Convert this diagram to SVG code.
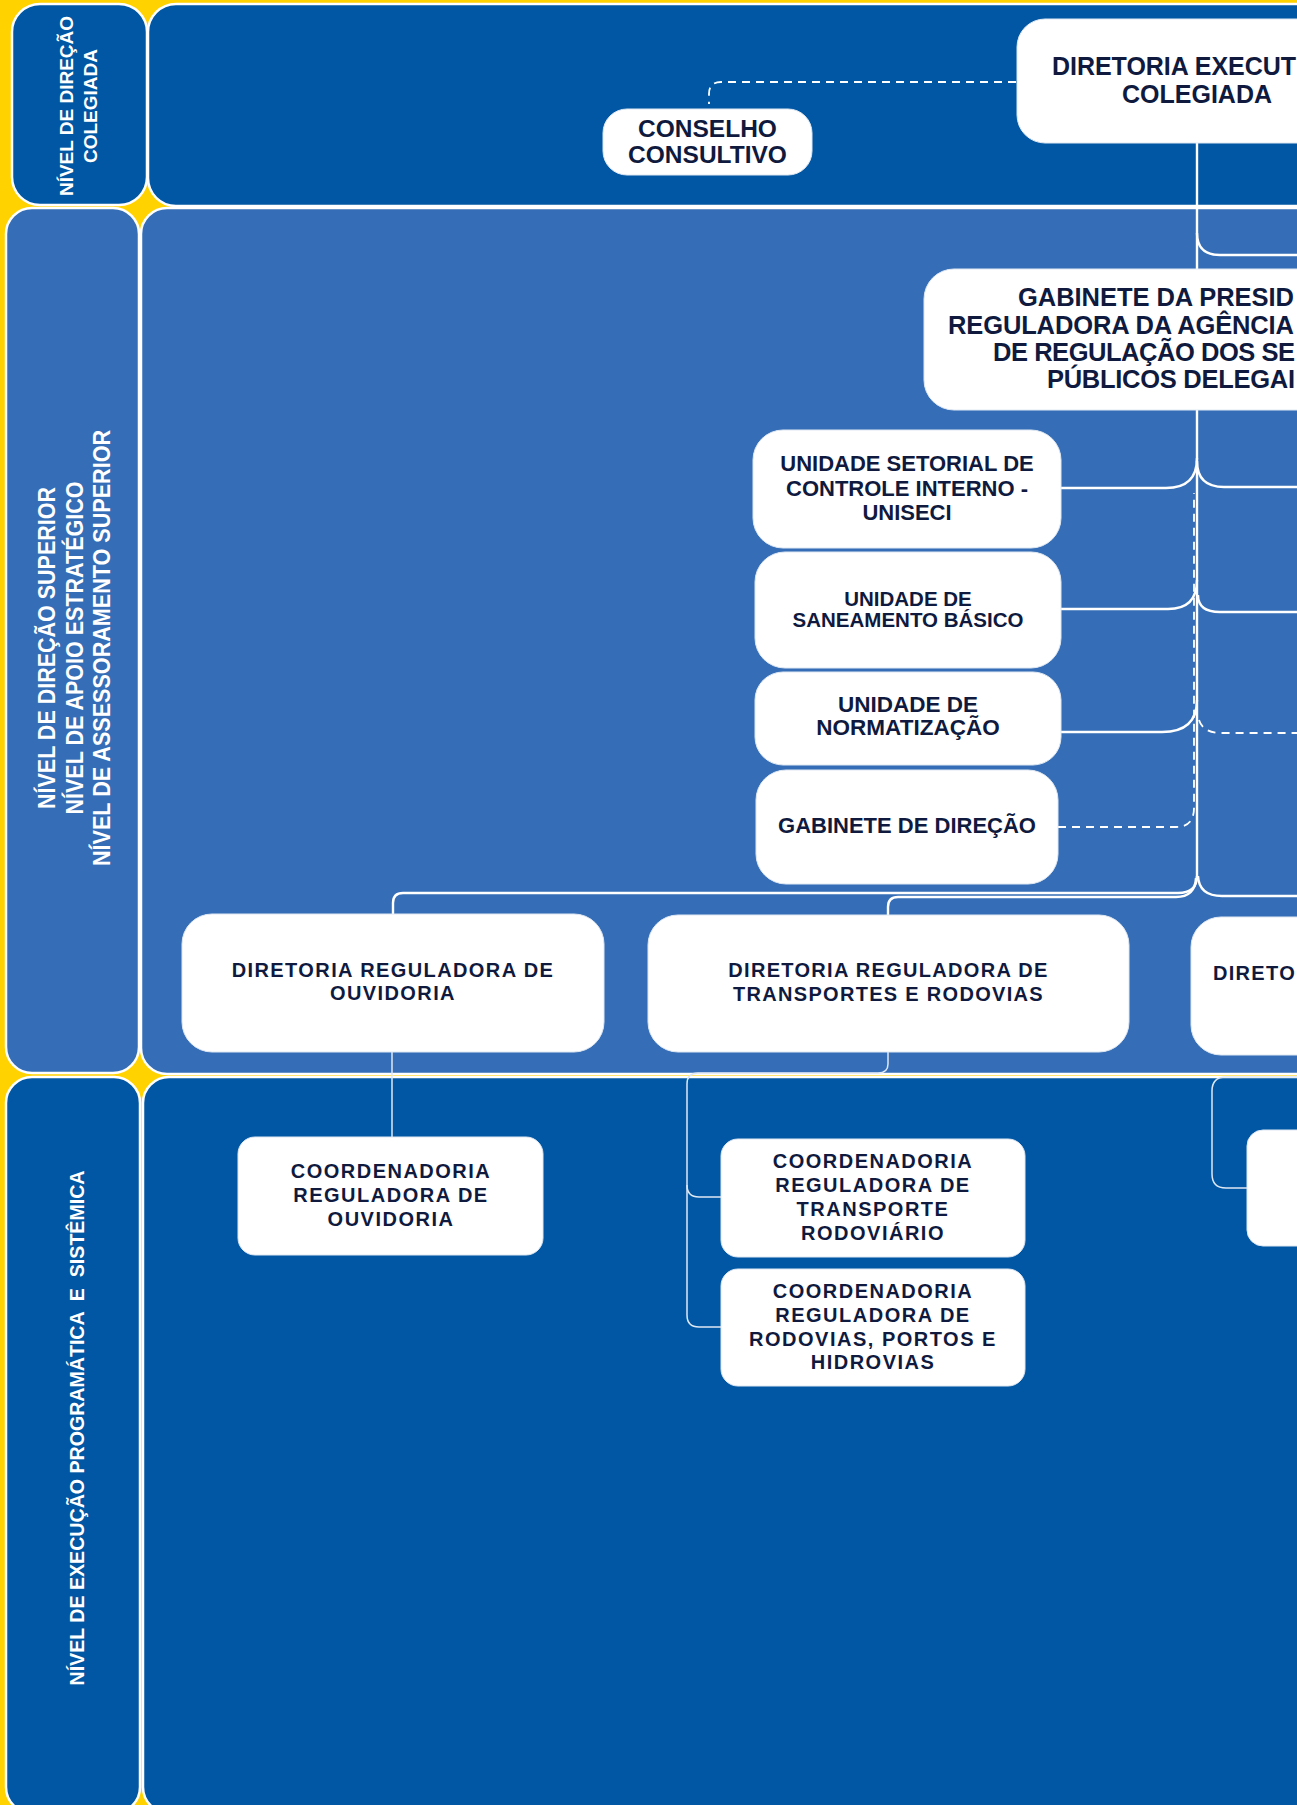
<svg xmlns="http://www.w3.org/2000/svg" width="1297" height="1805" viewBox="0 0 1297 1805">
<style>
.dark{fill:#0157A3;stroke:#ffffff;stroke-width:2.5}
.light{fill:#356EB6;stroke:#ffffff;stroke-width:2.5}
.box{fill:#ffffff;stroke:#dfe8f3;stroke-width:1}
.lbl{font-family:"Liberation Sans",Arial,sans-serif;font-weight:bold;fill:#ffffff}
.t{font-family:"Liberation Sans",Arial,sans-serif;font-weight:bold;fill:#0F1A3E}
.c{text-anchor:middle}
.ln{fill:none;stroke:#ffffff;stroke-width:2.4}
.thin{fill:none;stroke:#dfe8f5;stroke-width:1.5}
.dash{fill:none;stroke:#ffffff;stroke-width:1.8;stroke-dasharray:8 6}
</style>
<rect x="0" y="0" width="1297" height="1805" fill="#FFD200"/>
<g id="bands">
<rect class="dark" x="12" y="4" width="135" height="201" rx="28"/>
<rect class="dark" x="148" y="4" width="1190" height="202" rx="28"/>
<rect class="light" x="6" y="208" width="133" height="865" rx="26"/>
<rect class="light" x="141" y="208" width="1197" height="866" rx="26"/>
<rect class="dark" x="6" y="1077" width="134" height="736" rx="26"/>
<rect class="dark" x="143" y="1077" width="1195" height="736" rx="26"/>
<text class="lbl c" font-size="19" transform="translate(72.5,106) rotate(-90)">NÍVEL DE DIREÇÃO</text>
<text class="lbl c" font-size="19" transform="translate(97,106) rotate(-90)">COLEGIADA</text>
<text class="lbl c" font-size="24" textLength="322" lengthAdjust="spacingAndGlyphs" transform="translate(55,648) rotate(-90)">NÍVEL DE DIREÇÃO SUPERIOR</text>
<text class="lbl c" font-size="24" textLength="333" lengthAdjust="spacingAndGlyphs" transform="translate(82.5,648) rotate(-90)">NÍVEL DE APOIO ESTRATÉGICO</text>
<text class="lbl c" font-size="24" textLength="436" lengthAdjust="spacingAndGlyphs" transform="translate(110,648) rotate(-90)">NÍVEL DE ASSESSORAMENTO SUPERIOR</text>
<text class="lbl c" font-size="20.5" textLength="515" lengthAdjust="spacingAndGlyphs" xml:space="preserve" transform="translate(84,1428) rotate(-90)">NÍVEL DE EXECUÇÃO PROGRAMÁTICA  E  SISTÊMICA</text>
</g>
<g id="connectors">
<path class="dash" d="M1016,82 H721 Q709,82 709,94 V104"/>
<path class="ln" d="M1197,143 V880"/>
<path class="ln" d="M1197,233 Q1197,255 1220,255 H1300"/>
<path class="ln" d="M1061,488 H1166 Q1197,488 1197,458"/>
<path class="ln" d="M1197,461 Q1197,487 1224,487 H1300"/>
<path class="ln" d="M1061,609 H1168 Q1197,609 1197,580"/>
<path class="ln" d="M1198,595 Q1198,612 1220,612 H1300"/>
<path class="ln" d="M1061,732 H1162 Q1197,732 1197,700"/>
<path class="dash" d="M1199,720 Q1203,733 1222,733 H1300"/>
<path class="dash" d="M1058,827 H1176 Q1194,827 1194,808 V493"/>
<path class="ln" d="M1197,876 Q1197,893 1178,893 H403 Q393,893 393,903 V914"/>
<path class="ln" d="M1196,878 Q1195,897 1176,897 H898 Q888,897 888,907 V915"/>
<path class="ln" d="M1198,876 Q1199,896 1222,896 H1300"/>
<path class="thin" d="M392,1052 V1137"/>
<path class="thin" d="M888,1052 V1064 Q888,1073 878,1073 H698 Q687,1073 687,1084 V1315 Q687,1327 699,1327 H721"/>
<path class="thin" d="M687,1185 Q687,1197 699,1197 H721"/>
<path class="thin" d="M1300,1077 H1226 Q1212,1077 1212,1091 V1174 Q1212,1188 1226,1188 H1247"/>
</g>
<g id="diretoria-executiva">
<rect class="box" x="1017" y="19" width="330" height="124" rx="28"/>
<text class="t" font-size="25" x="1052" y="75" textLength="244" lengthAdjust="spacing">DIRETORIA EXECUT</text>
<text class="t c" font-size="25" x="1197" y="103">COLEGIADA</text>
</g>
<g id="conselho-consultivo">
<rect class="box" x="603" y="109" width="209" height="66" rx="24"/>
<text class="t c" font-size="24.5" x="707.5" y="137">CONSELHO</text>
<text class="t c" font-size="24.5" x="707.5" y="163">CONSULTIVO</text>
</g>
<g id="gabinete-presidencia">
<rect class="box" x="924" y="269" width="430" height="141" rx="30"/>
<text class="t" font-size="25.5" x="1018" y="306" textLength="276" lengthAdjust="spacing">GABINETE DA PRESID</text>
<text class="t" font-size="25.5" x="948" y="334" textLength="346" lengthAdjust="spacing">REGULADORA DA AGÊNCIA</text>
<text class="t" font-size="25.5" x="993" y="361" textLength="302" lengthAdjust="spacing">DE REGULAÇÃO DOS SE</text>
<text class="t" font-size="25.5" x="1047" y="388" textLength="248" lengthAdjust="spacing">PÚBLICOS DELEGAI</text>
</g>
<g id="uniseci">
<rect class="box" x="753" y="430" width="308" height="118" rx="30"/>
<text class="t c" font-size="22" x="907" y="471">UNIDADE SETORIAL DE</text>
<text class="t c" font-size="22" x="907" y="495.5">CONTROLE INTERNO -</text>
<text class="t c" font-size="22" x="907" y="520">UNISECI</text>
</g>
<g id="saneamento">
<rect class="box" x="755" y="552" width="306" height="116" rx="30"/>
<text class="t c" font-size="20.5" x="908" y="606">UNIDADE DE</text>
<text class="t c" font-size="20.5" x="908" y="627">SANEAMENTO BÁSICO</text>
</g>
<g id="normatizacao">
<rect class="box" x="755" y="672" width="306" height="93" rx="28"/>
<text class="t c" font-size="22.5" x="908" y="712">UNIDADE DE</text>
<text class="t c" font-size="22.5" x="908" y="735">NORMATIZAÇÃO</text>
</g>
<g id="gabinete-direcao">
<rect class="box" x="756" y="770" width="302" height="114" rx="30"/>
<text class="t c" font-size="22" x="907" y="833">GABINETE DE DIREÇÃO</text>
</g>
<g id="dir-ouvidoria">
<rect class="box" x="182" y="914" width="422" height="138" rx="30"/>
<text class="t c" font-size="20" letter-spacing="1.4" x="393" y="977">DIRETORIA REGULADORA DE</text>
<text class="t c" font-size="20" letter-spacing="1.4" x="393" y="1000">OUVIDORIA</text>
</g>
<g id="dir-transportes">
<rect class="box" x="648" y="915" width="481" height="137" rx="30"/>
<text class="t c" font-size="20" letter-spacing="1.3" x="888.5" y="977">DIRETORIA REGULADORA DE</text>
<text class="t c" font-size="20" letter-spacing="1.3" x="888.5" y="1001">TRANSPORTES E RODOVIAS</text>
</g>
<g id="dir-right">
<rect class="box" x="1191" y="917" width="150" height="138" rx="30"/>
<text class="t" font-size="20" letter-spacing="1.3" x="1213" y="980">DIRETO</text>
</g>
<g id="coord-ouvidoria">
<rect class="box" x="238" y="1137" width="305" height="118" rx="17"/>
<text class="t c" font-size="20" letter-spacing="1.5" x="391" y="1178">COORDENADORIA</text>
<text class="t c" font-size="20" letter-spacing="1.5" x="391" y="1202">REGULADORA DE</text>
<text class="t c" font-size="20" letter-spacing="1.5" x="391" y="1226">OUVIDORIA</text>
</g>
<g id="coord-transporte">
<rect class="box" x="721" y="1139" width="304" height="118" rx="17"/>
<text class="t c" font-size="20" letter-spacing="1.5" x="873" y="1168">COORDENADORIA</text>
<text class="t c" font-size="20" letter-spacing="1.5" x="873" y="1192">REGULADORA DE</text>
<text class="t c" font-size="20" letter-spacing="1.5" x="873" y="1216">TRANSPORTE</text>
<text class="t c" font-size="20" letter-spacing="1.5" x="873" y="1240">RODOVIÁRIO</text>
</g>
<g id="coord-rodovias">
<rect class="box" x="721" y="1269" width="304" height="117" rx="17"/>
<text class="t c" font-size="20" letter-spacing="1.5" x="873" y="1298">COORDENADORIA</text>
<text class="t c" font-size="20" letter-spacing="1.5" x="873" y="1322">REGULADORA DE</text>
<text class="t c" font-size="20" letter-spacing="1.5" x="873" y="1346">RODOVIAS, PORTOS E</text>
<text class="t c" font-size="20" letter-spacing="1.5" x="873" y="1369">HIDROVIAS</text>
</g>
<g id="coord-right">
<rect class="box" x="1247" y="1130" width="90" height="116" rx="16"/>
</g>
</svg>
